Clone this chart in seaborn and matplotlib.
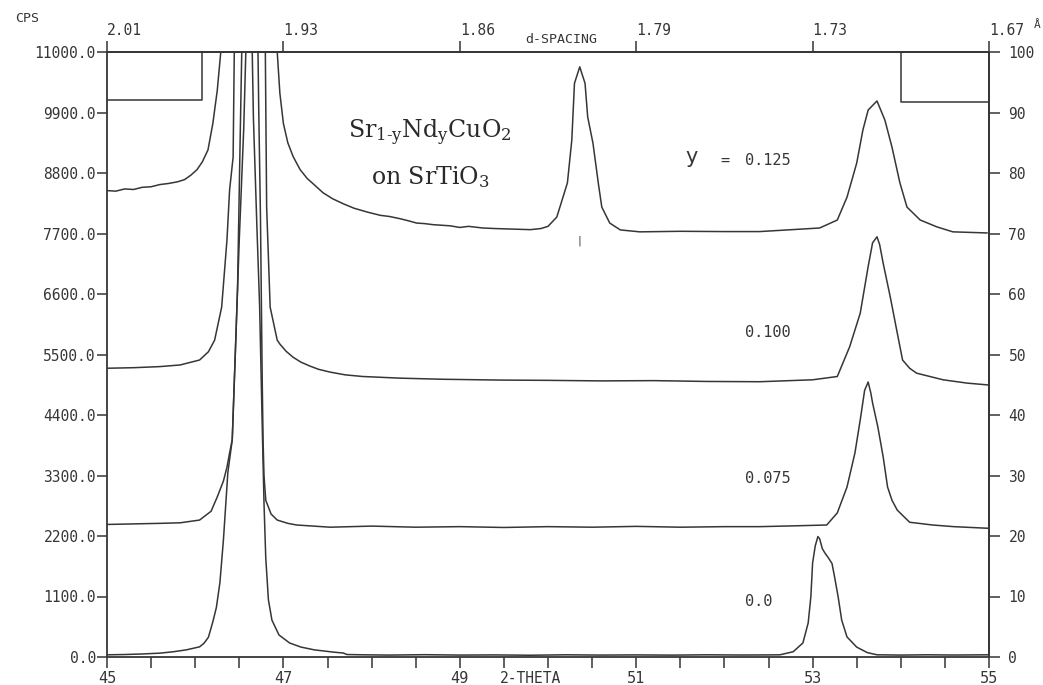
import numpy as np
import pandas as pd
import matplotlib
matplotlib.use("Agg")
import matplotlib.pyplot as plt
import seaborn as sns

# ---------------- data ----------------
# y = 0.0 scan (2-theta, cps)
tt_000 = [45.00, 45.20, 45.40, 45.60, 45.75, 45.90, 46.05, 46.10, 46.15, 46.20, 46.24,
          46.28, 46.32, 46.37, 46.42, 46.46, 46.50, 46.55, 46.60, 46.63, 46.66, 46.70,
          46.73, 46.76, 46.78, 46.80, 46.83, 46.87, 46.95, 47.07, 47.20, 47.35, 47.56,
          47.68, 47.72, 47.90, 48.20, 48.60, 49.00, 49.40, 49.80, 50.20, 50.60, 51.00,
          51.40, 51.80, 52.20, 52.50, 52.63, 52.78, 52.89, 52.95, 52.98, 53.00, 53.03,
          53.06, 53.08, 53.11, 53.14, 53.18, 53.22, 53.25, 53.29, 53.33, 53.39, 53.50,
          53.62, 53.73, 54.00, 54.30, 54.60, 55.00]
cps_000 = [40, 45, 55, 70, 95, 130, 185, 250, 360, 640, 900,
           1350, 2130, 3350, 3950, 5760, 7600, 9600, 12500, 12500, 9800, 7800,
           6400, 4200, 2800, 1800, 1040, 670, 400, 255, 180, 130, 90,
           72, 45, 40, 35, 42, 35, 38, 32, 40, 35, 38,
           34, 40, 36, 38, 40, 96, 255, 620, 1090, 1710, 2020,
           2190, 2150, 1970, 1890, 1800, 1700, 1450, 1090, 670, 365, 180,
           80, 40, 35, 40, 36, 40]

# y = 0.075 scan
tt_075 = [45.00, 45.30, 45.60, 45.83, 46.05, 46.18, 46.25, 46.32, 46.36, 46.39, 46.42,
          46.44, 46.46, 46.48, 46.51, 46.545, 46.62, 46.70, 46.72, 46.74, 46.75, 46.76,
          46.77, 46.78, 46.80, 46.86, 46.93, 47.05, 47.15, 47.53, 48.00, 48.50, 49.00,
          49.50, 50.00, 50.50, 51.00, 51.50, 52.00, 52.40, 52.80, 53.16, 53.28, 53.39,
          53.48, 53.54, 53.59, 53.63, 53.66, 53.68, 53.74, 53.80, 53.85, 53.90, 53.96,
          54.10, 54.36, 54.60, 54.93, 55.00]
cps_075 = [2410, 2420, 2430, 2440, 2490, 2650, 2910, 3200, 3450, 3710, 3950,
           4850, 5760, 6700, 9450, 12500, 13500, 12500, 10000, 8000, 6500, 5000,
           3900, 3300, 2850, 2600, 2490, 2430, 2400, 2360, 2380, 2360, 2370,
           2355, 2370, 2360, 2375, 2360, 2370, 2370, 2385, 2400, 2620, 3090,
           3710, 4310, 4850, 5000, 4800, 4620, 4180, 3640, 3090, 2850, 2670,
           2450, 2400, 2370, 2345, 2340]

# y = 0.100 scan
tt_100 = [45.00, 45.30, 45.60, 45.83, 46.05, 46.15, 46.22, 46.30, 46.36, 46.39, 46.43,
          46.45, 46.62, 46.79, 46.81, 46.85, 46.93, 46.96, 47.03, 47.11, 47.20, 47.30,
          47.40, 47.53, 47.70, 47.90, 48.32, 48.80, 49.46, 50.00, 50.60, 51.20, 51.80,
          52.40, 53.00, 53.28, 53.42, 53.54, 53.63, 53.68, 53.73, 53.76, 53.80, 53.88,
          53.96, 54.02, 54.10, 54.18, 54.48, 54.75, 55.00]
cps_100 = [5250, 5260, 5280, 5310, 5400, 5550, 5760, 6360, 7580, 8490, 9090,
           12000, 14000, 12000, 8180, 6360, 5760, 5690, 5560, 5450, 5360, 5290,
           5230, 5180, 5130, 5100, 5070, 5050, 5035, 5030, 5020, 5025, 5010,
           5005, 5040, 5100, 5640, 6250, 7100, 7530, 7640, 7500, 7160, 6550,
           5890, 5400, 5250, 5160, 5040, 4980, 4945]

# y = 0.125 scan
tt_125 = [45.00, 45.10, 45.20, 45.30, 45.40, 45.50, 45.60, 45.70, 45.80, 45.88, 45.95,
          46.02, 46.08, 46.145, 46.20, 46.25, 46.29, 46.31, 46.62, 46.91, 46.93, 46.96,
          47.00, 47.05, 47.11, 47.19, 47.27, 47.34, 47.45, 47.56, 47.68, 47.80, 47.95,
          48.10, 48.20, 48.32, 48.42, 48.51, 48.60, 48.70, 48.89, 49.00, 49.10, 49.26,
          49.40, 49.60, 49.80, 49.92, 50.00, 50.10, 50.22, 50.27, 50.30, 50.36, 50.42,
          50.45, 50.51, 50.57, 50.61, 50.70, 50.82, 51.04, 51.50, 52.00, 52.40, 53.08,
          53.28, 53.39, 53.50, 53.57, 53.63, 53.73, 53.82, 53.90, 53.99, 54.07, 54.22,
          54.41, 54.59, 54.98]
cps_125 = [8480, 8470, 8510, 8500, 8540, 8550, 8590, 8610, 8640, 8680, 8760,
           8860, 9000, 9220, 9700, 10300, 11000, 12500, 15000, 12500, 11000, 10250,
           9700, 9350, 9100, 8860, 8700, 8600, 8440, 8330, 8240, 8160, 8090,
           8030, 8010, 7970, 7930, 7890, 7880, 7860, 7840, 7810, 7830, 7800,
           7790, 7780, 7770, 7790, 7830, 8000, 8620, 9400, 10430, 10730, 10430,
           9820, 9340, 8620, 8180, 7890, 7765, 7730, 7740, 7735, 7735, 7800,
           7945, 8360, 8980, 9580, 9945, 10110, 9760, 9270, 8620, 8180, 7945,
           7820, 7730, 7710]

# scale-marker boxes at the top corners
box_left_x = [45.00, 46.08, 46.08]
box_left_y = [10130, 10130, 11000]
box_right_x = [55.00, 54.00, 54.00]
box_right_y = [10100, 10100, 11000]

# axes / tick labels
x_major = [45, 47, 49, 51, 53, 55]
x_minor = [45.5, 46, 46.5, 47.5, 48, 48.5, 49.5, 50, 50.5, 51.5, 52, 52.5, 53.5, 54, 54.5]
y_ticks = [0, 1100, 2200, 3300, 4400, 5500, 6600, 7700, 8800, 9900, 11000]
y_labels = ["0.0", "1100.0", "2200.0", "3300.0", "4400.0", "5500.0",
            "6600.0", "7700.0", "8800.0", "9900.0", "11000.0"]
d_labels = ["2.01", "1.93", "1.86", "1.79", "1.73", "1.67"]
pct_ticks = [0, 10, 20, 30, 40, 50, 60, 70, 80, 90, 100]

sample_names = ["0.0", "0.075", "0.100", "0.125"]
sample_label_y = [1000, 3254, 5909, 9036]

# ---------------- figure ----------------
sns.set_style("ticks")
plt.rcParams["font.family"] = ["DejaVu Sans Mono", "DejaVu Sans"]
plt.rcParams["mathtext.fontset"] = "dejavuserif"

INK = "#363636"

df = pd.concat([
    pd.DataFrame({"two_theta": tt, "cps": c, "sample": name})
    for tt, c, name in zip([tt_000, tt_075, tt_100, tt_125],
                           [cps_000, cps_075, cps_100, cps_125], sample_names)
], ignore_index=True)

fig = plt.figure(figsize=(10.43, 6.85), dpi=100)
ax = fig.add_axes([107 / 1043, 28 / 685, 882 / 1043, 605 / 685])

sns.lineplot(data=df, x="two_theta", y="cps", hue="sample", estimator=None,
             sort=False, palette=[INK] * 4, legend=False, linewidth=1.1, ax=ax)
ax.plot(box_left_x, box_left_y, color=INK, lw=1.1)
ax.plot(box_right_x, box_right_y, color=INK, lw=1.1)

ax.set_xlim(45, 55)
ax.set_ylim(0, 11000)
ax.set_xlabel("")
ax.set_ylabel("")

for s in ax.spines.values():
    s.set_visible(True)
    s.set_color(INK)
    s.set_linewidth(1.3)

ax.set_xticks(x_major, labels=[str(v) for v in x_major])
ax.set_xticks(x_minor, minor=True)
ax.tick_params(axis="x", which="both", direction="out", length=8, width=1.1,
               color=INK, labelsize=11, labelcolor=INK, pad=2)
ax.set_yticks(y_ticks, labels=y_labels)
ax.tick_params(axis="y", direction="out", length=7, width=1.1, color=INK,
               labelsize=10.5, labelcolor=INK, pad=1)

top = ax.secondary_xaxis("top")
top.set_xticks(x_major, labels=d_labels)
for t in top.get_xticklabels():
    t.set_horizontalalignment("left")
top.tick_params(direction="out", length=8, width=1.1, color=INK,
                labelsize=10.5, labelcolor=INK, pad=2)
top.spines["top"].set_color(INK)
top.spines["top"].set_linewidth(1.3)

right = ax.secondary_yaxis("right", functions=(lambda v: v / 110.0, lambda p: p * 110.0))
right.set_yticks(pct_ticks, labels=[str(v) for v in pct_ticks])
right.tick_params(direction="out", length=8, width=1.1, color=INK,
                  labelsize=10.5, labelcolor=INK, pad=6)
right.spines["right"].set_color(INK)
right.spines["right"].set_linewidth(1.3)

# axis titles in the printout style
xt = ax.get_xaxis_transform()
ax.text(49.80, -0.035, "2-THETA", transform=xt, ha="center", va="center",
        fontsize=10.5, color=INK)
ax.text(50.15, 1.02, "d-SPACING", transform=xt, ha="center", va="center",
        fontsize=9.5, color=INK)
fig.text(15 / 1043, 1 - 18 / 685, "CPS", ha="left", va="center", fontsize=9.5, color=INK)
fig.text(1037 / 1043, 1 - 25 / 685, "Å", ha="center", va="center", fontsize=8, color=INK)

# compound annotation
ax.text(48.66, 9527, "Sr$_{\\mathrm{1\u2010y}}$Nd$_{\\mathrm{y}}$CuO$_{\\mathrm{2}}$",
        ha="center", va="center", fontsize=17, family="DejaVu Serif", color="#2a2a2a")
ax.text(48.66, 8727, r"on SrTiO$_{\mathrm{3}}$",
        ha="center", va="center", fontsize=17, family="DejaVu Serif", color="#2a2a2a")

# sample labels
for name, yy in zip(sample_names, sample_label_y):
    ax.text(52.23, yy, name, ha="left", va="center", fontsize=11, color=INK)
ax.text(51.63, sample_label_y[-1] + 60, "y", ha="center", va="center", fontsize=15,
        family="DejaVu Sans", color=INK)
ax.text(52.01, sample_label_y[-1], "=", ha="center", va="center", fontsize=11, color=INK)
ax.text(50.36, 7560, "|", ha="center", va="center", fontsize=7, color=INK)

fig.savefig("out.png", dpi=100, facecolor="white")
